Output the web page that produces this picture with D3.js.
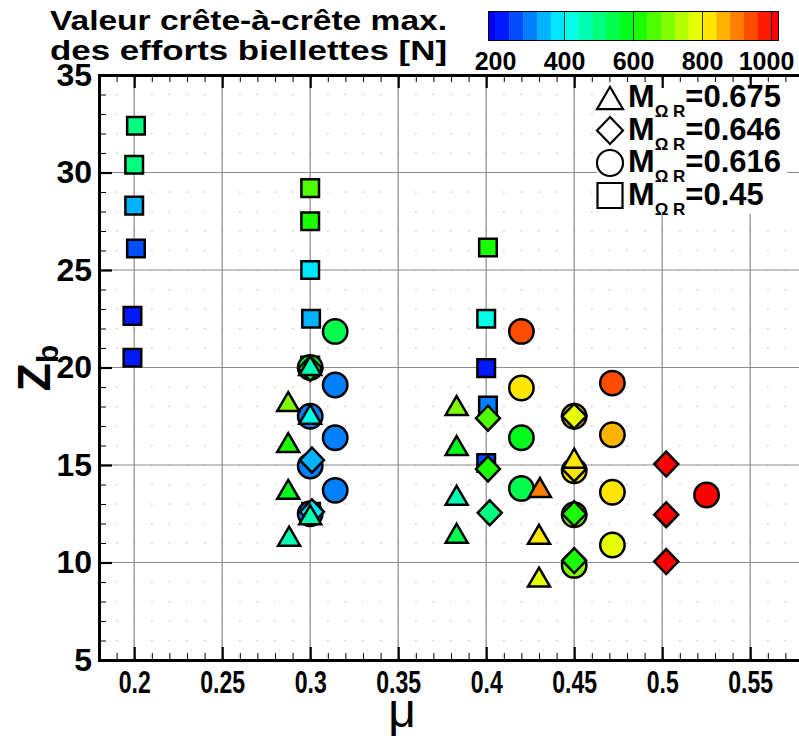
<!DOCTYPE html>
<html>
<head>
<meta charset="utf-8">
<script src="https://cdn.jsdelivr.net/npm/d3@7"></script>
<style>
  body { margin: 0; background: #fff; }
  text { font-family: "Liberation Sans", Arial, sans-serif; }
</style>
</head>
<body>
<div id="chart"></div>
<script>
// [mu, Zb, peak-to-peak max force (N)] for each Mach number
const squares045 = [
  [0.201, 32.4, 500], [0.2, 30.4, 500], [0.2, 28.3, 350], [0.201, 26.1, 275],
  [0.199, 22.65, 235], [0.199, 20.5, 205],
  [0.3, 29.2, 655], [0.3, 27.5, 615], [0.3, 25.0, 390], [0.3005, 22.5, 345],
  [0.3, 20.1, 260], [0.3005, 12.6, 270],
  [0.401, 26.15, 610], [0.4, 22.5, 420], [0.4, 19.97, 220], [0.401, 18.05, 300], [0.4, 15.1, 270]
];
const circles0616 = [
  [0.3142, 21.85, 540], [0.3, 20.0, 560], [0.3142, 19.1, 300], [0.3, 17.5, 290],
  [0.3142, 16.4, 300], [0.3, 14.95, 290], [0.3142, 13.7, 300], [0.3, 12.5, 290],
  [0.42, 21.85, 920], [0.42, 18.95, 810], [0.42, 16.4, 590], [0.42, 13.8, 545],
  [0.45, 17.5, 860], [0.45, 14.7, 815], [0.45, 12.45, 700], [0.45, 9.85, 700],
  [0.4717, 19.2, 920], [0.4717, 16.55, 860], [0.4717, 13.6, 800], [0.4717, 10.9, 770],
  [0.5252, 13.46, 1000]
];
const diamonds0646 = [
  [0.3, 19.95, 570], [0.301, 15.25, 340], [0.301, 12.6, 380],
  [0.401, 17.4, 650], [0.401, 14.8, 600], [0.402, 12.55, 490],
  [0.45, 17.5, 770], [0.45, 14.8, 810], [0.45, 12.5, 600], [0.45, 10.1, 600],
  [0.5023, 15.05, 1000], [0.5023, 12.45, 1000], [0.5023, 10.05, 1000]
];
const triangles0675 = [
  [0.2875, 18.25, 690], [0.2875, 16.15, 600], [0.2875, 13.75, 575], [0.288, 11.35, 460],
  [0.3, 20.1, 460], [0.3, 17.6, 420], [0.3, 12.45, 460],
  [0.3832, 18.05, 690], [0.3832, 16.0, 560], [0.3832, 13.45, 460], [0.3832, 11.5, 530],
  [0.4305, 13.85, 900], [0.43, 11.45, 820], [0.43, 9.25, 770],
  [0.45, 15.35, 820]
];

const legendLabels = ["=0.675", "=0.646", "=0.616", "=0.45"];
const xTicks = [0.2, 0.25, 0.3, 0.35, 0.4, 0.45, 0.5, 0.55];
const yTicks = [5, 10, 15, 20, 25, 30, 35];
const colorTicks = [200, 400, 600, 800, 1000];
const colorStops = [200, 400, 600, 800, 1000];
const colorHues = ["#0000ff", "#00ffff", "#00ff00", "#ffff00", "#ff0000"];

const W = 799, H = 738;

const svg = d3.select("#chart").append("svg")
  .attr("width", W).attr("height", H);

const x = d3.scaleLinear().domain([0.18, 0.58]).range([99, 803]);
const y = d3.scaleLinear().domain([5, 35]).range([660, 75]);

const cont = d3.scaleLinear().domain(colorStops).range(colorHues).clamp(true);
// banded colours, 40 N per level like the flood legend
const band = v => cont(Math.floor((v - 200) / 40) * 40 + 220);

// minor grid dots
const minorX = d3.range(0.18, 0.5801, 0.01).map(v => +v.toFixed(2));
const minorY = d3.range(5, 35.01, 1);
const dots = [];
minorX.forEach(mx => minorY.forEach(my => dots.push([mx, my])));
svg.append("g").selectAll("rect").data(dots).join("rect")
  .attr("x", d => x(d[0]) - 0.5).attr("y", d => y(d[1]) - 0.5)
  .attr("width", 1.2).attr("height", 1.2).attr("fill", "#b5b5b5");

// major grid
svg.append("g").selectAll("line").data(xTicks).join("line")
  .attr("x1", d => x(d)).attr("x2", d => x(d))
  .attr("y1", y(35)).attr("y2", y(5))
  .attr("stroke", "#8c8c8c").attr("stroke-width", 1.2);
svg.append("g").selectAll("line").data(yTicks.slice(1, -1)).join("line")
  .attr("x1", x(0.18)).attr("x2", x(0.58))
  .attr("y1", d => y(d)).attr("y2", d => y(d))
  .attr("stroke", "#8c8c8c").attr("stroke-width", 1.2);

// legend background
svg.append("rect").attr("x", 597).attr("y", 80).attr("width", 190).attr("height", 134)
  .attr("fill", "#fff");

// markers
const shapes = {
  square: s => `M${-s},${-s}h${2 * s}v${2 * s}h${-2 * s}Z`,
  circle: s => `M${s},0A${s},${s} 0 1,1 ${-s},0A${s},${s} 0 1,1 ${s},0Z`,
  diamond: s => `M0,${-s * 1.04}L${s},0L0,${s * 1.04}L${-s},0Z`,
  triangle: s => `M0,${-s * 0.86}L${s},${s * 0.86}L${-s},${s * 0.86}Z`
};

function drawSeries(data, type, size) {
  svg.append("g").selectAll("path").data(data).join("path")
    .attr("transform", d => `translate(${x(d[0])},${y(d[1])})`)
    .attr("d", shapes[type](size))
    .attr("fill", d => band(d[2]))
    .attr("stroke", "#000").attr("stroke-width", 2.5);
}
drawSeries(squares045, "square", 8.8);
drawSeries(circles0616, "circle", 12.2);
drawSeries(diamonds0646, "diamond", 12);
drawSeries(triangles0675, "triangle", 11);

// axes (ticks pointing inward)
const xAxis = svg.append("g").attr("transform", `translate(0,${y(5)})`)
  .call(d3.axisBottom(x).tickValues(xTicks).tickSize(-13).tickPadding(10).tickFormat(d => String(d)));
const xMinor = svg.append("g").attr("transform", `translate(0,${y(5)})`)
  .call(d3.axisBottom(x).tickValues(minorX.filter(v => !xTicks.includes(v))).tickSize(-7).tickFormat(""));
const xTop = svg.append("g").attr("transform", `translate(0,${y(35)})`)
  .call(d3.axisTop(x).tickValues(xTicks).tickSize(-13).tickFormat(""));
const xTopMinor = svg.append("g").attr("transform", `translate(0,${y(35)})`)
  .call(d3.axisTop(x).tickValues(minorX.filter(v => !xTicks.includes(v))).tickSize(-7).tickFormat(""));
const yAxis = svg.append("g").attr("transform", `translate(${x(0.18)},0)`)
  .call(d3.axisLeft(y).tickValues(yTicks).tickSize(-13).tickPadding(7));
const yMinor = svg.append("g").attr("transform", `translate(${x(0.18)},0)`)
  .call(d3.axisLeft(y).tickValues(minorY.filter(v => v % 5 !== 0)).tickSize(-7).tickFormat(""));

[xAxis, xTop, yAxis].forEach(g => {
  g.select(".domain").attr("stroke-width", 3);
  g.selectAll(".tick line").attr("stroke-width", 2.2);
});
[xMinor, xTopMinor, yMinor].forEach(g => {
  g.select(".domain").remove();
  g.selectAll(".tick line").attr("stroke-width", 1);
});
xAxis.selectAll(".tick text")
  .attr("font-size", 32).attr("font-weight", "bold").attr("fill", "#000")
  .attr("transform", "scale(0.72,1)");
yAxis.selectAll(".tick text")
  .attr("font-size", 32).attr("font-weight", "bold").attr("fill", "#000");

// axis titles
svg.append("text").attr("x", 402).attr("y", 727).attr("text-anchor", "middle")
  .attr("font-size", 48).text("\u03bc");
const zt = svg.append("text").attr("transform", "translate(50,368) rotate(-90)")
  .attr("text-anchor", "middle").attr("font-weight", "bold");
zt.append("tspan").attr("font-size", 46).text("Z");
zt.append("tspan").attr("font-size", 30).attr("dy", 8).text("b");

// colour bar
const cb = d3.scaleLinear().domain([180, 1020]).range([488.6, 778.4]);
const bands = [[180, 200]].concat(d3.range(200, 1000, 40).map(v => [v, v + 40]), [[1000, 1020]]);
svg.append("g").selectAll("rect").data(bands).join("rect")
  .attr("x", d => cb(d[0])).attr("y", 11.5)
  .attr("width", d => cb(d[1]) - cb(d[0]) + 0.4).attr("height", 29)
  .attr("fill", d => cont((d[0] + d[1]) / 2));
svg.append("g").selectAll("line").data(colorTicks.slice(1)).join("line")
  .attr("x1", d => cb(d)).attr("x2", d => cb(d)).attr("y1", 11.5).attr("y2", 40.5)
  .attr("stroke", "#000").attr("stroke-width", 0.8);
svg.append("rect").attr("x", cb(180)).attr("y", 11.5)
  .attr("width", cb(1020) - cb(180)).attr("height", 29)
  .attr("fill", "none").attr("stroke", "#000").attr("stroke-width", 1);
svg.append("g").selectAll("text").data(colorTicks).join("text")
  .attr("x", d => d === 1000 ? cb(d) - 5 : cb(d)).attr("y", 70)
  .attr("text-anchor", "middle").attr("font-size", 25).attr("font-weight", "bold")
  .text(d => d);
svg.append("text").attr("x", 50).attr("y", 30).attr("font-size", 28).attr("font-weight", "bold")
  .attr("textLength", 397).attr("lengthAdjust", "spacingAndGlyphs")
  .text("Valeur crête-à-crête max.");
svg.append("text").attr("x", 50).attr("y", 60).attr("font-size", 28).attr("font-weight", "bold")
  .attr("textLength", 397).attr("lengthAdjust", "spacingAndGlyphs")
  .text("des efforts biellettes [N]");

// legend
const legendShapes = [["triangle", 13], ["diamond", 13], ["circle", 13], ["square", 12.5]];
const lg = svg.append("g").selectAll("g").data(legendLabels).join("g")
  .attr("transform", (d, i) => `translate(0,${98 + i * 32.5})`);
lg.append("path")
  .attr("transform", "translate(610,0)")
  .attr("d", (d, i) => shapes[legendShapes[i][0]](legendShapes[i][1]))
  .attr("fill", "#fff").attr("stroke", "#000").attr("stroke-width", 2.2);
const lt = lg.append("text").attr("x", 628).attr("y", 9).attr("font-weight", "bold");
lt.append("tspan").attr("font-size", 32).text("M");
lt.append("tspan").attr("font-size", 17).attr("dy", 10).text("\u03a9 R");
lt.append("tspan").attr("font-size", 31).attr("dy", -10).text(d => d);
</script>
</body>
</html>
